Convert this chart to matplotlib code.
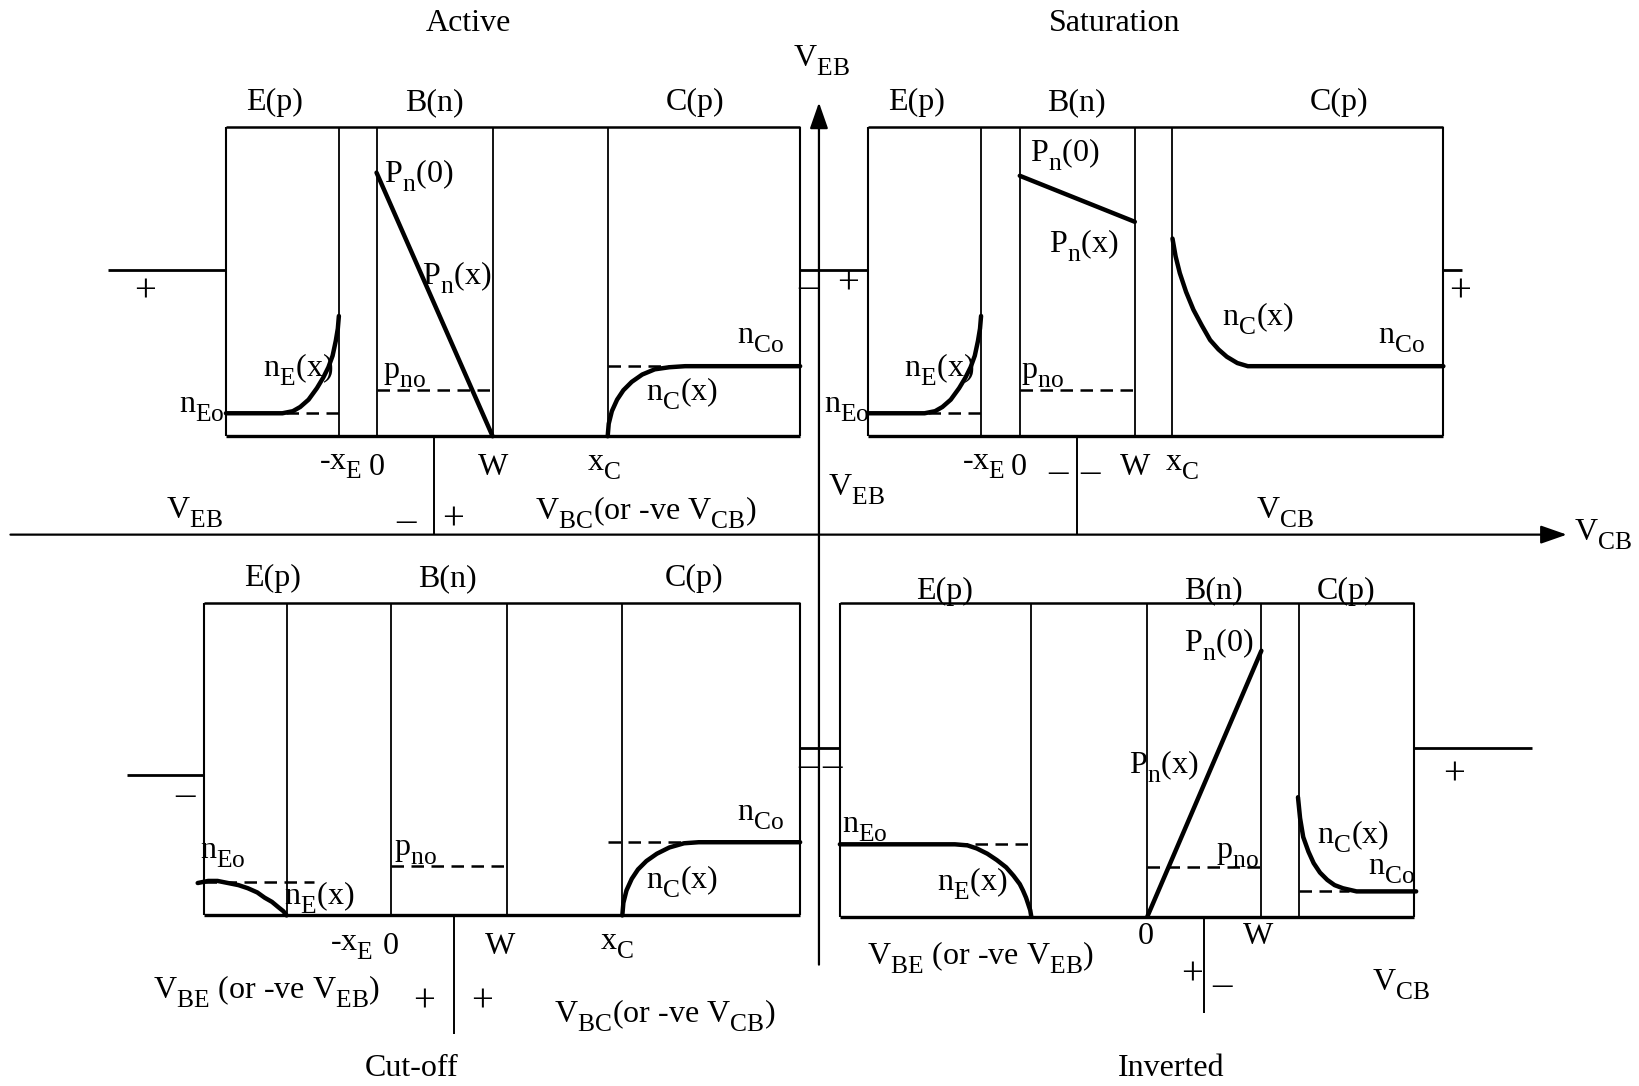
import numpy as np
import matplotlib
matplotlib.use('Agg')
import matplotlib.pyplot as plt
import matplotlib._mathtext as mathtext_internals

plt.rcParams['font.family'] = ['Liberation Serif', 'DejaVu Serif']
plt.rcParams['mathtext.fontset'] = 'custom'
plt.rcParams['mathtext.rm'] = 'Liberation Serif'
plt.rcParams['mathtext.it'] = 'Liberation Serif:italic'
# subscripts in the original are nearly full size and sit low
mathtext_internals.SHRINK_FACTOR = 0.8
mathtext_internals.FontConstantsBase.sub1 = 0.65

# diagram coordinates (pixels of a 1568 x 1038 drawing, y down)
modes = ['Active', 'Saturation', 'Cut-off', 'Inverted']
mode_x = [448, 1066, 394, 1120]
mode_y = [22, 22, 1021, 1021]

box_left = [216, 830, 195, 803]
box_right = [765, 1380, 765, 1352]
box_top = [121, 121, 576, 576]
box_bottom = [417, 417, 875, 876]
inner_x = [[324, 360, 471, 581], [938, 975, 1085, 1121],
           [274, 374, 485, 595], [986, 1097, 1206, 1242]]

regions = ['E(p)', 'B(n)', 'C(p)']
region_x = [[262, 415, 665], [876, 1029, 1280], [261, 428, 664], [903, 1160, 1287]]
region_y = [98, 98, 553, 565]

# terminal leads: x0, x1, y
lead_x0 = [103, 765, 1380, 121, 765, 1352]
lead_x1 = [216, 830, 1398, 195, 803, 1465]
lead_y = [258, 258, 258, 741, 715, 715]

# base terminals
base_x = [415, 1030, 434, 1151]
base_y0 = [417, 417, 875, 876]
base_y1 = [511, 511, 988, 968]

# carrier profiles
act_nE_x = [216, 270, 280, 287, 295, 303, 309, 314, 318, 321, 323, 324]
act_nE_y = [395, 395, 393, 389, 382, 371, 361, 351, 340, 326, 314, 302]
act_pn_x = [360, 471]
act_pn_y = [165, 417]
act_nC_x = [581, 582, 585, 590, 596, 604, 614, 626, 640, 655, 765]
act_nC_y = [417, 405, 393, 382, 373, 365, 358, 353, 351, 350, 350]

sat_nE_x = [830, 884, 894, 901, 909, 917, 923, 928, 932, 935, 937, 938]
sat_nE_y = [395, 395, 393, 389, 382, 371, 361, 351, 340, 326, 314, 302]
sat_pn_x = [975, 1085]
sat_pn_y = [168, 212]
sat_nC_x = [1121, 1124, 1128, 1134, 1141, 1149, 1157, 1165, 1173, 1183, 1193, 1380]
sat_nC_y = [228, 245, 261, 279, 296, 311, 325, 334, 341, 347, 350, 350]

cut_nE_x = [189, 199, 208, 218, 228, 237, 246, 253, 260, 266, 271, 274]
cut_nE_y = [844, 842, 842, 844, 846, 849, 853, 858, 862, 867, 871, 875]
cut_nC_x = [595, 596, 599, 604, 610, 618, 628, 640, 654, 668, 765]
cut_nC_y = [875, 863, 851, 840, 831, 823, 816, 810, 806, 805, 805]

inv_nE_x = [803, 913, 925, 934, 944, 953, 962, 969, 975, 978, 981, 983, 985, 986]
inv_nE_y = [807, 807, 808, 811, 816, 822, 829, 837, 845, 851, 858, 864, 870, 876]
inv_pn_x = [1097, 1206]
inv_pn_y = [876, 622]
inv_nC_x = [1241, 1243, 1246, 1251, 1256, 1262, 1269, 1276, 1284, 1297, 1354]
inv_nC_y = [762, 782, 800, 814, 825, 834, 841, 846, 849, 852, 852]

# equilibrium levels (dashed): x0, x1, y
eq_x0 = [216, 360, 581, 830, 975, 195, 374, 581, 913, 1097, 1242]
eq_x1 = [324, 471, 765, 938, 1085, 300, 485, 765, 986, 1206, 1290]
eq_y = [395, 373, 350, 395, 373, 843, 828, 805, 807, 829, 852]

labels = [
    (r'P$_{\mathrm{n}}$(0)', 400, 168), (r'P$_{\mathrm{n}}$(x)', 437, 265),
    (r'n$_{\mathrm{E}}$(x)', 285, 353), (r'n$_{\mathrm{Eo}}$', 193, 391),
    (r'p$_{\mathrm{no}}$', 387, 359), (r'n$_{\mathrm{Co}}$', 727, 325),
    (r'n$_{\mathrm{C}}$(x)', 652, 376),
    (r'-x$_{\mathrm{E}}$', 326, 446), ('0', 360, 447), ('W', 471, 447),
    (r'x$_{\mathrm{C}}$', 577, 447), (r'V$_{\mathrm{EB}}$', 186, 490),
    (r'V$_{\mathrm{BC}}$(or -ve V$_{\mathrm{CB}}$)', 618, 490),

    (r'P$_{\mathrm{n}}$(0)', 1018, 148), (r'P$_{\mathrm{n}}$(x)', 1036, 235),
    (r'n$_{\mathrm{E}}$(x)', 898, 353), (r'n$_{\mathrm{Eo}}$', 810, 391),
    (r'p$_{\mathrm{no}}$', 997, 359), (r'n$_{\mathrm{C}}$(x)', 1203, 305),
    (r'n$_{\mathrm{Co}}$', 1340, 325),
    (r'-x$_{\mathrm{E}}$', 940, 446), ('0', 974, 447),
    ('W', 1085, 447), (r'x$_{\mathrm{C}}$', 1130, 447),
    (r'V$_{\mathrm{EB}}$', 819, 468), (r'V$_{\mathrm{CB}}$', 1229, 490),

    (r'n$_{\mathrm{Eo}}$', 213, 818), (r'n$_{\mathrm{E}}$(x)', 305, 858),
    (r'p$_{\mathrm{no}}$', 397, 815), (r'n$_{\mathrm{Co}}$', 727, 781),
    (r'n$_{\mathrm{C}}$(x)', 652, 843),
    (r'-x$_{\mathrm{E}}$', 336, 906), ('0', 374, 905), ('W', 478, 905),
    (r'x$_{\mathrm{C}}$', 590, 905),
    (r'V$_{\mathrm{BE}}$ (or -ve V$_{\mathrm{EB}}$)', 255, 948),
    (r'V$_{\mathrm{BC}}$(or -ve V$_{\mathrm{CB}}$)', 636, 971),

    (r'n$_{\mathrm{Eo}}$', 827, 793), (r'n$_{\mathrm{E}}$(x)', 930, 845),
    (r'P$_{\mathrm{n}}$(0)', 1165, 616), (r'P$_{\mathrm{n}}$(x)', 1113, 733),
    (r'p$_{\mathrm{no}}$', 1183, 818), (r'n$_{\mathrm{C}}$(x)', 1294, 800),
    (r'n$_{\mathrm{Co}}$', 1330, 833), ('0', 1095, 895), ('W', 1203, 895),
    (r'V$_{\mathrm{BE}}$ (or -ve V$_{\mathrm{EB}}$)', 938, 915),
    (r'V$_{\mathrm{CB}}$', 1340, 941),
]

# polarity signs
signs = [('–', 388, 498), ('+', 433, 497), ('+', 139, 279), ('–', 773, 275),
         ('–', 1012, 452), ('–', 1042, 452), ('+', 811, 271), ('+', 1396, 279),
         ('+', 405, 958), ('+', 461, 958), ('–', 177, 760), ('–', 773, 733),
         ('+', 1140, 932), ('–', 1168, 942), ('+', 1390, 741), ('–', 795, 733)]

fig = plt.figure(figsize=(16.4, 10.86), dpi=100)
ax = fig.add_axes([0, 0, 1, 1])
ax.set_xlim(0, 1568)
ax.set_ylim(1038, 0)
ax.axis('off')

k = dict(color='black', solid_capstyle='butt')

# main axes
ax.annotate('', xy=(783, 98), xytext=(783, 922),
            arrowprops=dict(arrowstyle='-|>,head_length=0.8,head_width=0.28',
                            lw=1.6, color='black', mutation_scale=20,
                            shrinkA=0, shrinkB=0))
ax.annotate('', xy=(1498, 511), xytext=(10, 511),
            arrowprops=dict(arrowstyle='-|>,head_length=0.8,head_width=0.28',
                            lw=1.6, color='black', mutation_scale=20,
                            shrinkA=0, shrinkB=0))
ax.text(785, 58, r'V$_{\mathrm{EB}}$', fontsize=23, ha='center', va='center')
ax.text(1533, 511, r'V$_{\mathrm{CB}}$', fontsize=23, ha='center', va='center')

for i in range(4):
    l, r, t, b = box_left[i], box_right[i], box_top[i], box_bottom[i]
    ax.plot([l, r], [t, t], lw=1.8, **k)
    ax.plot([l, r], [b, b], lw=2.4, **k)
    ax.plot([l, l], [t, b], lw=1.5, **k)
    ax.plot([r, r], [t, b], lw=1.5, **k)
    for xv in inner_x[i]:
        ax.plot([xv, xv], [t, b], lw=1.3, **k)
    for name, xr in zip(regions, region_x[i]):
        ax.text(xr, region_y[i], name, fontsize=23, ha='center', va='center')
    ax.text(mode_x[i], mode_y[i], modes[i], fontsize=23, ha='center', va='center')
    ax.plot([base_x[i], base_x[i]], [base_y0[i], base_y1[i]], lw=1.4, **k)

for x0, x1, y in zip(lead_x0, lead_x1, lead_y):
    ax.plot([x0, x1], [y, y], lw=2.0, **k)

for x0, x1, y in zip(eq_x0, eq_x1, eq_y):
    ax.plot([x0, x1], [y, y], color='black', lw=1.8, linestyle=(0, (5, 3)))

curves = [(act_nE_x, act_nE_y), (act_pn_x, act_pn_y), (act_nC_x, act_nC_y),
          (sat_nE_x, sat_nE_y), (sat_pn_x, sat_pn_y), (sat_nC_x, sat_nC_y),
          (cut_nE_x, cut_nE_y), (cut_nC_x, cut_nC_y),
          (inv_nE_x, inv_nE_y), (inv_pn_x, inv_pn_y), (inv_nC_x, inv_nC_y)]
for cx, cy in curves:
    ax.plot(cx, cy, color='black', lw=3.2, solid_capstyle='round',
            solid_joinstyle='round')

for s, x, y in labels:
    ax.text(x, y, s, fontsize=23, ha='center', va='center')

for s, x, y in signs:
    ax.text(x, y, s, fontsize=28, ha='center', va='center')

fig.savefig('out.png', dpi=100, facecolor='white')
